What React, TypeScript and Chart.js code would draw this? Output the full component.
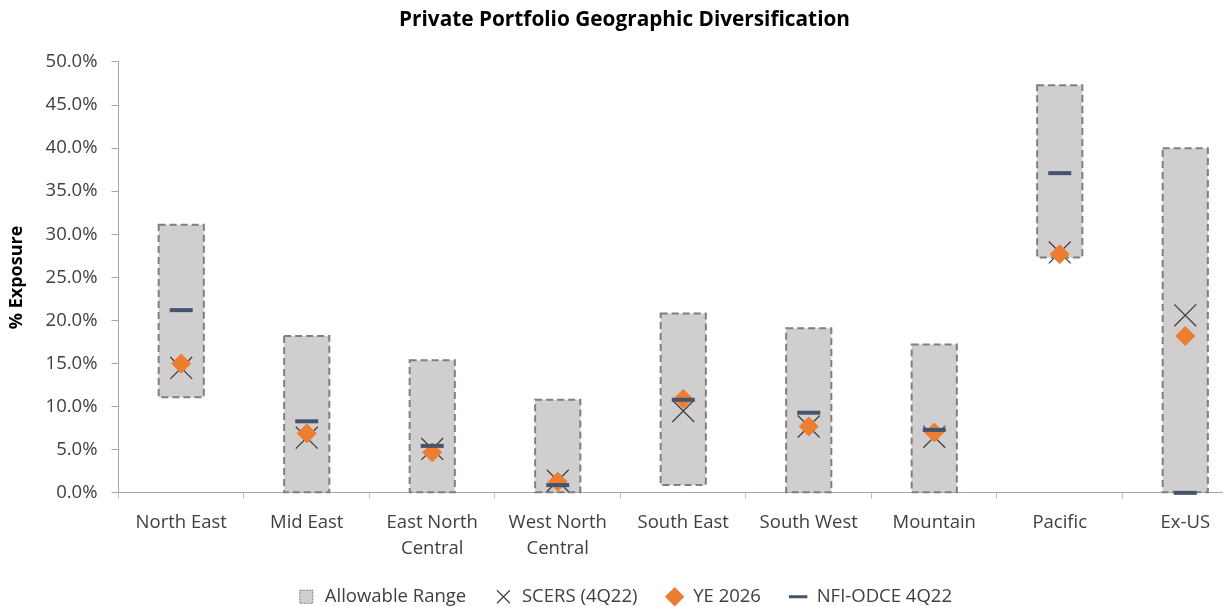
import React, { useEffect, useRef } from "react";
import { Chart, registerables } from "chart.js";

Chart.register(...registerables);

const categories: (string | string[])[] = [
  "North East",
  "Mid East",
  ["East North", "Central"],
  ["West North", "Central"],
  "South East",
  "South West",
  "Mountain",
  "Pacific",
  "Ex-US",
];
const rangeLow = [11.1, 0, 0, 0, 0.9, 0, 0, 27.3, 0];
const rangeHigh = [31.1, 18.2, 15.4, 10.8, 20.8, 19.1, 17.2, 47.3, 40.0];
const scers = [14.5, 6.4, 5.1, 1.4, 9.5, 7.7, 6.5, 27.9, 20.6];
const ye2026 = [15.0, 6.9, 4.7, 1.3, 10.9, 7.7, 7.0, 27.7, 18.2];
const nfi = [21.2, 8.3, 5.45, 0.9, 10.8, 9.3, 7.3, 37.1, 0];
const yTicks = [0, 5, 10, 15, 20, 25, 30, 35, 40, 45, 50];

const FONT = "'Open Sans', Lato, sans-serif";

const dashedBoxes = {
  id: "dashedBoxes",
  afterDatasetDraw(chart: any, args: any) {
    if (args.index !== 0) return;
    const ctx = chart.ctx;
    const meta = args.meta;
    ctx.save();
    ctx.strokeStyle = "#7f7f7f";
    ctx.lineWidth = 2;
    ctx.setLineDash([7, 4]);
    meta.data.forEach((bar: any) => {
      const p = bar.getProps(["x", "y", "base", "width"], true);
      const left = p.x - p.width / 2;
      const top = Math.min(p.y, p.base);
      const h = Math.abs(p.base - p.y);
      ctx.strokeRect(left, top, p.width, h);
    });
    ctx.restore();
  },
};

export default function App() {
  const ref = useRef<HTMLCanvasElement>(null);
  useEffect(() => {
    document.documentElement.style.overflow = "hidden";
    const chart = new Chart(ref.current!, {
      type: "bar",
      data: {
        labels: categories as any,
        datasets: [
          {
            type: "bar",
            label: "Allowable Range",
            data: rangeLow.map((l, i) => [l, rangeHigh[i]]) as any,
            backgroundColor: "#d0cecf",
            borderWidth: 0,
            barPercentage: 0.36,
            categoryPercentage: 1,
            order: 4,
          },
          {
            type: "line",
            label: "SCERS (4Q22)",
            data: scers,
            showLine: false,
            pointStyle: "crossRot",
            pointRadius: 15.5,
            borderColor: "#404040",
            backgroundColor: "#404040",
            pointBorderWidth: 1.3,
            order: 3,
          },
          {
            type: "line",
            label: "YE 2026",
            data: ye2026,
            showLine: false,
            pointStyle: "rectRot",
            pointRadius: 9.5,
            borderColor: "#ed7d31",
            backgroundColor: "#ed7d31",
            pointBorderWidth: 1,
            order: 2,
          },
          {
            type: "line",
            label: "NFI-ODCE 4Q22",
            data: nfi,
            showLine: false,
            pointStyle: "line",
            pointRadius: 11.5,
            borderColor: "#44546a",
            backgroundColor: "#44546a",
            pointBorderWidth: 4,
            clip: false,
            order: 1,
          },
        ],
      },
      options: {
        animation: false,
        responsive: true,
        maintainAspectRatio: false,
        layout: { autoPadding: false, padding: { left: -7, right: 0, top: 0, bottom: 0 } },
        plugins: {
          tooltip: { enabled: false },
          title: {
            display: true,
            text: "Private Portfolio Geographic Diversification",
            color: "#000000",
            font: { family: FONT, size: 20.8, weight: "bold", lineHeight: 1.2 },
            padding: { top: 0, bottom: 29 },
          },
          legend: {
            position: "bottom",
            labels: {
              usePointStyle: true,
              color: "#404040",
              font: { family: FONT, size: 18.5 },
              padding: 28,
              boxHeight: 13,
              sort: (a: any, b: any) => a.datasetIndex - b.datasetIndex,
              generateLabels: (chart: any) => {
                const styles = [
                  { pointStyle: "rect", fillStyle: "#d0cecf", strokeStyle: "#7f7f7f", lineWidth: 1, lineDash: [2, 1] },
                  { pointStyle: "crossRot", fillStyle: "#404040", strokeStyle: "#404040", lineWidth: 1.2 },
                  { pointStyle: "rectRot", fillStyle: "#ed7d31", strokeStyle: "#ed7d31", lineWidth: 1 },
                  { pointStyle: "line", fillStyle: "#44546a", strokeStyle: "#44546a", lineWidth: 3 },
                ];
                return chart.data.datasets.map((ds: any, i: number) => ({
                  text: ds.label,
                  datasetIndex: i,
                  hidden: false,
                  fontColor: "#404040",
                  rotation: 0,
                  ...styles[i],
                }));
              },
            },
          },
        },
        scales: {
          x: {
            offset: true,
            afterFit: (axis: any) => {
              axis.height -= 13;
            },
            grid: {
              display: true,
              drawOnChartArea: false,
              offset: true,
              tickLength: 6,
              color: "#bfbfbf",
            },
            border: { color: "#a6a6a6", width: 1 },
            ticks: {
              color: "#404040",
              font: { family: FONT, size: 18.5, lineHeight: 1.45 },
              padding: 10,
              maxRotation: 0,
              autoSkip: false,
            },
          },
          y: {
            min: 0,
            max: 50,
            afterBuildTicks: (axis: any) => {
              axis.ticks = yTicks.map((v) => ({ value: v }));
            },
            grid: {
              display: true,
              drawOnChartArea: false,
              tickLength: 7,
              color: "#a6a6a6",
            },
            border: { color: "#a6a6a6", width: 1 },
            ticks: {
              color: "#404040",
              font: { family: FONT, size: 18.5 },
              padding: 14,
              callback: (v: any) => Number(v).toFixed(1) + "%",
            },
            title: {
              display: true,
              text: "% Exposure",
              color: "#000000",
              font: { family: FONT, size: 18, weight: "bold" },
              padding: { top: 5, bottom: 4 },
            },
          },
        },
      },
      plugins: [dashedBoxes],
    });
    return () => chart.destroy();
  }, []);
  return (
    <div style={{ width: 1223, height: 599, overflow: "hidden" }}>
      <div style={{ position: "relative", width: 1240, height: 608 }}>
        <canvas ref={ref} />
      </div>
    </div>
  );
}
